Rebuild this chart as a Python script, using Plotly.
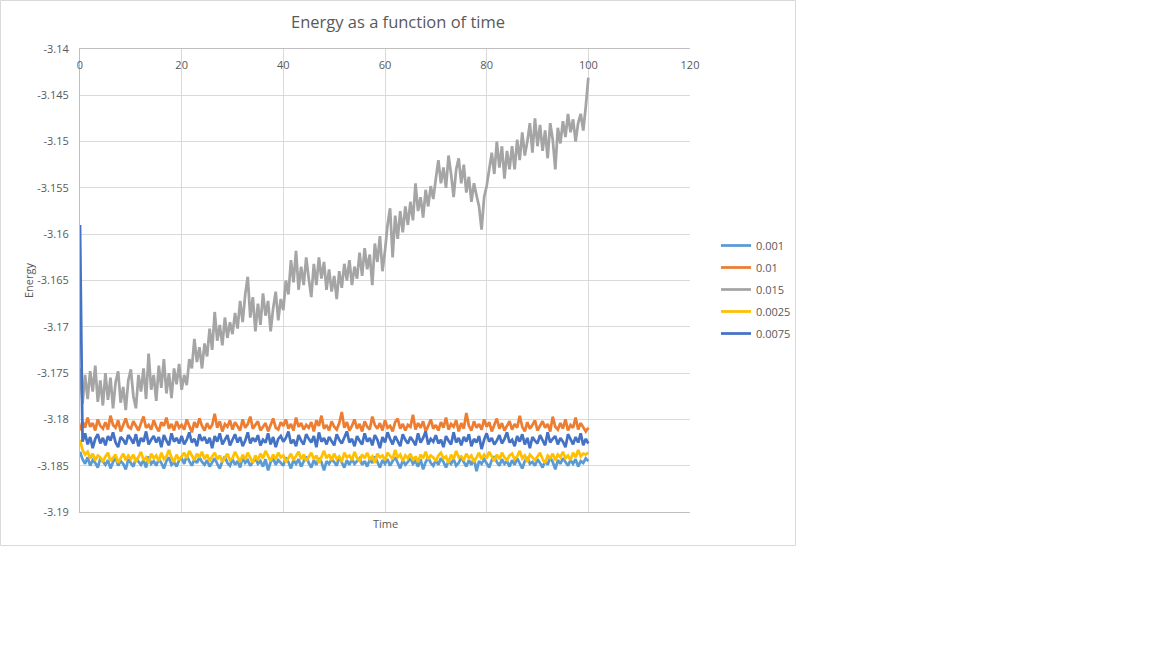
import plotly.graph_objects as go

# sampled every 0.5 time units, 0..100
time = [i / 2 for i in range(201)]

e_0001 = [
    -3.1835, -3.1843, -3.1848, -3.1841, -3.1850, -3.1844, -3.1847, -3.1852, -3.1842, -3.1846,
    -3.1849, -3.1844, -3.1853, -3.1846, -3.1841, -3.1850, -3.1845, -3.1848, -3.1854, -3.1843,
    -3.1847, -3.1851, -3.1842, -3.1846, -3.1849, -3.1844, -3.1852, -3.1840, -3.1848, -3.1845,
    -3.1850, -3.1843, -3.1847, -3.1853, -3.1845, -3.1841, -3.1849, -3.1846, -3.1851, -3.1844,
    -3.1842, -3.1848, -3.1839, -3.1845, -3.1850, -3.1843, -3.1847, -3.1841, -3.1846, -3.1849,
    -3.1844, -3.1851, -3.1846, -3.1842, -3.1848, -3.1853, -3.1845, -3.1840, -3.1847, -3.1850,
    -3.1843, -3.1849, -3.1845, -3.1852, -3.1841, -3.1847, -3.1844, -3.1850, -3.1846, -3.1842,
    -3.1848, -3.1845, -3.1851, -3.1843, -3.1855, -3.1846, -3.1842, -3.1849, -3.1844, -3.1847,
    -3.1850, -3.1841, -3.1846, -3.1853, -3.1844, -3.1848, -3.1843, -3.1851, -3.1845, -3.1840,
    -3.1847, -3.1852, -3.1844, -3.1849, -3.1842, -3.1846, -3.1855, -3.1845, -3.1848, -3.1843,
    -3.1846, -3.1850, -3.1841, -3.1847, -3.1852, -3.1844, -3.1849, -3.1843, -3.1848, -3.1845,
    -3.1842, -3.1849, -3.1845, -3.1851, -3.1843, -3.1847, -3.1840, -3.1846, -3.1852, -3.1844,
    -3.1848, -3.1843, -3.1850, -3.1845, -3.1841, -3.1847, -3.1853, -3.1844, -3.1849, -3.1846,
    -3.1842, -3.1848, -3.1845, -3.1851, -3.1843, -3.1854, -3.1846, -3.1841, -3.1847, -3.1850,
    -3.1844, -3.1849, -3.1842, -3.1846, -3.1852, -3.1845, -3.1848, -3.1843, -3.1850, -3.1847,
    -3.1841, -3.1846, -3.1851, -3.1844, -3.1849, -3.1842, -3.1856, -3.1845, -3.1848, -3.1843,
    -3.1847, -3.1852, -3.1844, -3.1840, -3.1846, -3.1850, -3.1843, -3.1848, -3.1845, -3.1851,
    -3.1844, -3.1849, -3.1842, -3.1847, -3.1853, -3.1845, -3.1841, -3.1848, -3.1846, -3.1850,
    -3.1843, -3.1847, -3.1852, -3.1845, -3.1849, -3.1841, -3.1846, -3.1854, -3.1844, -3.1848,
    -3.1842, -3.1846, -3.1850, -3.1844, -3.1848, -3.1843, -3.1851, -3.1845, -3.1847, -3.1842,
    -3.1845,
]

e_001 = [
    -3.1812, -3.1802, -3.1809, -3.1798, -3.1808, -3.1804, -3.1812, -3.1800, -3.1807, -3.1810,
    -3.1803, -3.1811, -3.1796, -3.1806, -3.1809, -3.1801, -3.1813, -3.1805, -3.1799, -3.1808,
    -3.1810, -3.1802, -3.1807, -3.1812, -3.1804, -3.1797, -3.1809, -3.1806, -3.1811, -3.1801,
    -3.1808, -3.1813, -3.1803, -3.1807, -3.1798, -3.1810, -3.1805, -3.1812, -3.1802, -3.1809,
    -3.1806, -3.1811, -3.1800, -3.1808, -3.1814, -3.1803, -3.1809, -3.1799, -3.1807, -3.1812,
    -3.1804, -3.1810, -3.1806, -3.1794, -3.1809, -3.1802, -3.1813, -3.1805, -3.1808, -3.1801,
    -3.1811, -3.1803, -3.1807, -3.1812, -3.1800, -3.1809, -3.1805, -3.1797, -3.1810, -3.1806,
    -3.1802, -3.1812, -3.1808, -3.1804, -3.1813, -3.1806, -3.1799, -3.1809, -3.1811, -3.1803,
    -3.1807, -3.1800, -3.1810, -3.1805, -3.1812, -3.1798, -3.1808, -3.1804, -3.1811, -3.1806,
    -3.1809, -3.1803, -3.1813, -3.1801, -3.1807, -3.1796, -3.1810, -3.1806, -3.1812, -3.1802,
    -3.1808, -3.1811, -3.1804, -3.1792, -3.1809, -3.1803, -3.1812, -3.1807, -3.1800, -3.1810,
    -3.1805, -3.1813, -3.1802, -3.1808, -3.1811, -3.1797, -3.1806, -3.1810, -3.1804, -3.1812,
    -3.1801, -3.1809, -3.1807, -3.1813, -3.1803, -3.1799, -3.1810, -3.1805, -3.1812, -3.1806,
    -3.1808, -3.1795, -3.1811, -3.1804, -3.1809, -3.1802, -3.1813, -3.1807, -3.1800, -3.1810,
    -3.1806, -3.1812, -3.1803, -3.1809, -3.1798, -3.1811, -3.1805, -3.1808, -3.1801, -3.1813,
    -3.1804, -3.1810, -3.1793, -3.1807, -3.1812, -3.1802, -3.1809, -3.1805, -3.1811, -3.1800,
    -3.1808, -3.1803, -3.1813, -3.1806, -3.1799, -3.1810, -3.1804, -3.1812, -3.1807, -3.1802,
    -3.1811, -3.1805, -3.1809, -3.1796, -3.1808, -3.1813, -3.1803, -3.1810, -3.1806, -3.1801,
    -3.1812, -3.1807, -3.1802, -3.1809, -3.1805, -3.1813, -3.1797, -3.1808, -3.1811, -3.1804,
    -3.1810, -3.1800, -3.1812, -3.1806, -3.1809, -3.1798, -3.1811, -3.1804, -3.1808, -3.1813,
    -3.1809,
]

e_0015 = [
    -3.1745, -3.1783, -3.1752, -3.1778, -3.1748, -3.1770, -3.1742, -3.1781, -3.1758, -3.1785,
    -3.1750, -3.1779, -3.1755, -3.1788, -3.1760, -3.1748, -3.1782, -3.1765, -3.1790, -3.1758,
    -3.1746, -3.1775, -3.1788, -3.1752, -3.1770, -3.1745, -3.1778, -3.1729, -3.1768, -3.1752,
    -3.1780, -3.1742, -3.1766, -3.1735, -3.1772, -3.1750, -3.1777, -3.1745, -3.1762, -3.1740,
    -3.1768, -3.1752, -3.1763, -3.1735, -3.1745, -3.1713, -3.1738, -3.1722, -3.1745, -3.1718,
    -3.1732, -3.1702, -3.1725, -3.1684, -3.1715, -3.1698, -3.1720, -3.1690, -3.1712, -3.1695,
    -3.1708, -3.1685, -3.1702, -3.1672, -3.1695, -3.1665, -3.1646, -3.1690, -3.1668, -3.1705,
    -3.1675, -3.1698, -3.1664, -3.1688, -3.1672, -3.1705, -3.1680, -3.1662, -3.1693, -3.1670,
    -3.1682, -3.1650, -3.1665, -3.1628, -3.1652, -3.1618, -3.1660, -3.1635, -3.1655, -3.1625,
    -3.1648, -3.1668, -3.1632, -3.1655, -3.1625, -3.1648, -3.1630, -3.1660, -3.1638, -3.1662,
    -3.1645, -3.1670, -3.1640, -3.1658, -3.1632, -3.1650, -3.1628, -3.1655, -3.1635, -3.1648,
    -3.1620, -3.1645, -3.1615, -3.1638, -3.1622, -3.1655, -3.1610, -3.1630, -3.1602, -3.1640,
    -3.1618, -3.1590, -3.1572, -3.1625, -3.1580, -3.1605, -3.1575, -3.1598, -3.1570, -3.1590,
    -3.1565, -3.1585, -3.1545, -3.1575, -3.1560, -3.1582, -3.1552, -3.1570, -3.1548, -3.1562,
    -3.1540, -3.1520, -3.1545, -3.1528, -3.1550, -3.1515, -3.1535, -3.1560, -3.1530, -3.1518,
    -3.1545, -3.1525, -3.1555, -3.1538, -3.1565, -3.1545, -3.1558, -3.1570, -3.1595, -3.1560,
    -3.1548, -3.1530, -3.1512, -3.1535, -3.1500, -3.1528, -3.1505, -3.1540, -3.1510, -3.1530,
    -3.1505, -3.1530, -3.1498, -3.1520, -3.1490, -3.1515, -3.1500, -3.1480, -3.1512, -3.1475,
    -3.1505, -3.1482, -3.1510, -3.1488, -3.1518, -3.1480, -3.1498, -3.1530, -3.1485, -3.1502,
    -3.1478, -3.1495, -3.1470, -3.1490, -3.1476, -3.1500, -3.1480, -3.1470, -3.1488, -3.1462,
    -3.1431,
]

e_00025 = [
    -3.1822, -3.1833, -3.1838, -3.1835, -3.1842, -3.1837, -3.1844, -3.1839, -3.1841, -3.1846,
    -3.1840, -3.1836, -3.1845, -3.1841, -3.1838, -3.1847, -3.1842, -3.1837, -3.1844, -3.1839,
    -3.1843, -3.1838, -3.1846, -3.1840, -3.1835, -3.1844, -3.1841, -3.1847, -3.1837, -3.1842,
    -3.1839, -3.1845, -3.1836, -3.1843, -3.1840, -3.1833, -3.1841, -3.1846, -3.1838, -3.1844,
    -3.1840, -3.1836, -3.1842, -3.1834, -3.1839, -3.1844, -3.1837, -3.1841, -3.1835, -3.1843,
    -3.1838, -3.1845, -3.1840, -3.1836, -3.1843, -3.1839, -3.1846, -3.1841, -3.1837, -3.1844,
    -3.1842, -3.1835, -3.1840, -3.1846, -3.1838, -3.1843, -3.1836, -3.1841, -3.1847, -3.1839,
    -3.1844, -3.1837, -3.1842, -3.1834, -3.1840, -3.1845, -3.1838, -3.1843, -3.1836, -3.1841,
    -3.1839, -3.1846, -3.1842, -3.1837, -3.1844, -3.1840, -3.1835, -3.1843, -3.1838, -3.1845,
    -3.1841, -3.1836, -3.1843, -3.1839, -3.1847, -3.1840, -3.1834, -3.1842, -3.1838, -3.1844,
    -3.1837, -3.1843, -3.1840, -3.1846, -3.1836, -3.1841, -3.1839, -3.1844, -3.1835, -3.1842,
    -3.1845, -3.1838, -3.1842, -3.1836, -3.1843, -3.1840, -3.1847, -3.1837, -3.1841, -3.1839,
    -3.1844, -3.1836, -3.1840, -3.1843, -3.1833, -3.1841, -3.1838, -3.1845, -3.1839, -3.1842,
    -3.1837, -3.1844, -3.1840, -3.1846, -3.1838, -3.1842, -3.1835, -3.1843, -3.1839, -3.1841,
    -3.1845, -3.1839, -3.1836, -3.1842, -3.1840, -3.1847, -3.1838, -3.1843, -3.1834, -3.1841,
    -3.1840, -3.1844, -3.1837, -3.1842, -3.1839, -3.1846, -3.1841, -3.1836, -3.1843, -3.1838,
    -3.1842, -3.1835, -3.1840, -3.1845, -3.1838, -3.1843, -3.1836, -3.1841, -3.1844, -3.1839,
    -3.1837, -3.1843, -3.1840, -3.1834, -3.1842, -3.1839, -3.1846, -3.1838, -3.1841, -3.1844,
    -3.1840, -3.1836, -3.1843, -3.1847, -3.1839, -3.1842, -3.1837, -3.1844, -3.1838, -3.1841,
    -3.1835, -3.1842, -3.1839, -3.1844, -3.1836, -3.1841, -3.1833, -3.1840, -3.1837, -3.1838,
    -3.1836,
]

e_00075 = [
    -3.1590, -3.1824, -3.1815, -3.1827, -3.1819, -3.1831, -3.1821, -3.1816, -3.1826, -3.1820,
    -3.1828, -3.1818, -3.1823, -3.1814, -3.1825, -3.1830, -3.1819, -3.1822, -3.1827, -3.1817,
    -3.1821, -3.1826, -3.1816, -3.1829, -3.1820, -3.1824, -3.1813, -3.1827, -3.1822, -3.1818,
    -3.1825, -3.1819, -3.1830, -3.1817, -3.1823, -3.1828, -3.1815, -3.1824, -3.1820, -3.1826,
    -3.1818, -3.1827, -3.1822, -3.1814, -3.1825, -3.1821, -3.1829, -3.1816, -3.1823, -3.1819,
    -3.1826, -3.1820, -3.1831, -3.1818, -3.1824, -3.1815, -3.1827, -3.1822, -3.1817, -3.1828,
    -3.1821, -3.1816, -3.1825, -3.1819, -3.1829, -3.1823, -3.1814, -3.1826, -3.1820, -3.1824,
    -3.1817, -3.1828, -3.1822, -3.1825, -3.1815, -3.1827, -3.1819, -3.1830, -3.1821, -3.1818,
    -3.1824, -3.1820, -3.1813, -3.1826, -3.1822, -3.1829, -3.1817, -3.1823, -3.1827, -3.1816,
    -3.1821, -3.1825, -3.1818, -3.1830, -3.1814, -3.1824, -3.1820, -3.1827, -3.1819, -3.1823,
    -3.1828, -3.1816, -3.1822, -3.1826, -3.1819, -3.1813, -3.1825, -3.1821, -3.1829, -3.1818,
    -3.1823, -3.1827, -3.1815, -3.1824, -3.1820, -3.1828, -3.1817, -3.1822, -3.1831, -3.1819,
    -3.1825, -3.1814, -3.1821, -3.1827, -3.1818, -3.1824, -3.1829, -3.1816, -3.1822, -3.1826,
    -3.1819, -3.1823, -3.1828, -3.1815, -3.1825, -3.1820, -3.1813, -3.1827, -3.1821, -3.1824,
    -3.1817, -3.1826, -3.1822, -3.1830, -3.1818, -3.1823, -3.1827, -3.1814, -3.1825, -3.1820,
    -3.1828, -3.1819, -3.1824, -3.1816, -3.1829, -3.1821, -3.1825, -3.1818, -3.1832, -3.1822,
    -3.1815, -3.1824, -3.1820, -3.1827, -3.1823, -3.1817, -3.1826, -3.1821, -3.1814, -3.1825,
    -3.1822, -3.1829, -3.1818, -3.1824, -3.1816, -3.1827, -3.1820, -3.1831, -3.1819, -3.1823,
    -3.1826, -3.1817, -3.1823, -3.1828, -3.1814, -3.1825, -3.1821, -3.1818, -3.1827, -3.1820,
    -3.1824, -3.1830, -3.1816, -3.1822, -3.1827, -3.1819, -3.1825, -3.1815, -3.1828, -3.1821,
    -3.1826,
]

series_names = ["0.001", "0.01", "0.015", "0.0025", "0.0075"]
series_values = [e_0001, e_001, e_0015, e_00025, e_00075]
colors = ["#5B9BD5", "#ED7D31", "#A5A5A5", "#FFC000", "#4472C4"]

y_ticks = [-3.14, -3.145, -3.15, -3.155, -3.16, -3.165, -3.17, -3.175, -3.18, -3.185, -3.19]
y_labels = ["-3.14", "-3.145", "-3.15", "-3.155", "-3.16", "-3.165", "-3.17", "-3.175", "-3.18", "-3.185", "-3.19"]

W, H = 1152, 648
L, R, T, B = 80, 690, 49, 512  # plot area in pixels


def px(x, y):
    # pixel position -> paper coords
    return (x - L) / (R - L), (B - y) / (B - T)


fig = go.Figure()
for i, (name, vals, col) in enumerate(zip(series_names, series_values, colors)):
    assert len(vals) == len(time)
    fig.add_trace(go.Scatter(
        x=time, y=vals, name=name, mode="lines",
        line=dict(color=col, width=2.75),
        legendgroup=f"g{i}",
    ))

grey = "#595959"
font = "Open Sans, Arial, sans-serif"

tx, ty = px(398, 22)
ex, ey = px(28, 280)
mx, my = px(385, 523)
lx, ly = px(716, 231)
bx0, by0 = px(0.5, 545.5)
bx1, by1 = px(795.5, 0.5)

fig.update_layout(
    width=W, height=H,
    margin=dict(l=L, r=W - R, t=T, b=H - B),
    paper_bgcolor="white", plot_bgcolor="white",
    font=dict(family=font, size=11, color=grey),
    showlegend=True,
    legend=dict(
        x=lx, y=ly, xanchor="left", yanchor="top",
        font=dict(size=11, color=grey), traceorder="grouped",
        tracegroupgap=3, itemwidth=30, bgcolor="rgba(0,0,0,0)",
    ),
    xaxis=dict(
        range=[0, 120], dtick=20, side="top",
        ticklabelposition="inside", ticklabeloverflow="allow", ticklabelstandoff=12,
        showgrid=True, gridcolor="#D9D9D9", gridwidth=1,
        showline=True, linecolor="#BFBFBF", linewidth=1, mirror=True,
        zeroline=False, ticks="", tickfont=dict(size=11, color=grey),
    ),
    yaxis=dict(
        range=[-3.190001, -3.139999], tickvals=y_ticks, ticktext=y_labels,
        showgrid=True, gridcolor="#D9D9D9", gridwidth=1,
        showline=True, linecolor="#BFBFBF", linewidth=1,
        zeroline=False, ticks="", ticklabelstandoff=8,
        tickfont=dict(size=11, color=grey),
    ),
    annotations=[
        dict(text="Energy as a function of time", x=tx, y=ty, xref="paper", yref="paper",
             showarrow=False, xanchor="center", yanchor="middle",
             font=dict(size=16.5, color=grey)),
        dict(text="Energy", x=ex, y=ey, xref="paper", yref="paper", textangle=-90,
             showarrow=False, xanchor="center", yanchor="middle",
             font=dict(size=11, color=grey)),
        dict(text="Time", x=mx, y=my, xref="paper", yref="paper",
             showarrow=False, xanchor="center", yanchor="middle",
             font=dict(size=11, color=grey)),
    ],
    shapes=[
        dict(type="rect", xref="paper", yref="paper", x0=bx0, y0=by0, x1=bx1, y1=by1,
             line=dict(color="#D9D9D9", width=1), fillcolor="rgba(0,0,0,0)", layer="below"),
    ],
)

# browser default body margin would shift the whole chart by 8px
fig.write_html("out.html", config={"displayModeBar": False},
               post_script="document.body.style.margin='0';")
